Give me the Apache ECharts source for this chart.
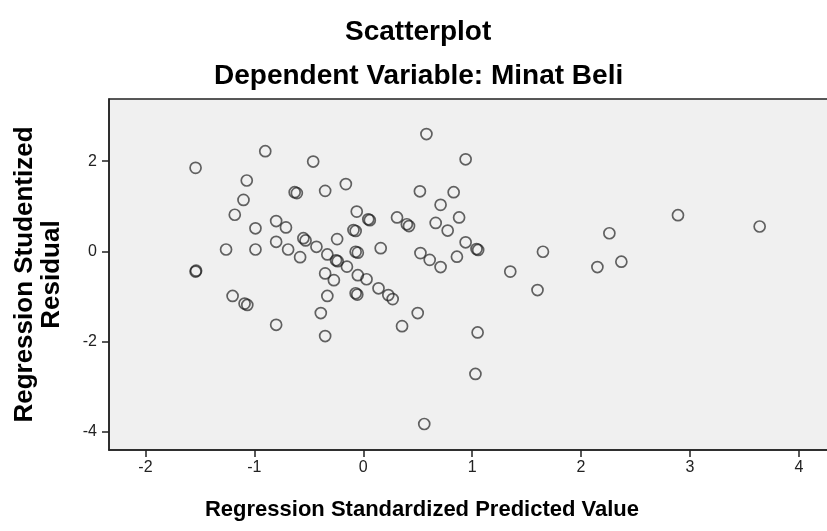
<!DOCTYPE html>
<html>
<head>
<meta charset="utf-8">
<script src="https://cdn.jsdelivr.net/npm/echarts@6/dist/echarts.min.js"></script>
<style>
html,body{margin:0;padding:0;background:#fff;}
#chart{width:827px;height:531px;}
</style>
</head>
<body>
<div id="chart"></div>
<script>
// Regression Standardized Predicted Value (x)
var predicted = [
  -1.54, -0.90, -0.46, -1.07, -1.10, -1.18, -0.63, -0.61, -0.35, -0.16,
  -0.99, -0.80, -0.71, -1.26, -0.99, -0.80, -0.69, -0.58, -0.55, -0.53,
  -0.43, -0.24, -0.33, -0.25, -0.235, -0.15, -0.09, -0.07, -0.06, -0.07,
  -0.05, -0.35, -1.54, -1.535, 0.58, 0.94, 0.52, 0.83, 0.71, 0.88,
  0.665, 0.775, 0.31, 0.40, 0.42, 0.046, 0.06, 0.16, 0.525, 0.61,
  0.71, 0.86, 0.94, 1.04, 1.055, 1.35, -0.05, 0.03, -1.20, -1.09,
  -1.065, -0.80, -0.27, -0.33, -0.39, -0.35, -0.07, -0.055, 0.14, 0.23,
  0.27, 0.50, 0.356, 1.05, 1.03, 0.56, 2.89, 3.64, 2.26, 1.65,
  2.15, 2.37, 1.60
];
// Regression Studentized Residual (y)
var residual = [
  1.85, 2.22, 1.99, 1.57, 1.14, 0.81, 1.31, 1.29, 1.34, 1.49,
  0.51, 0.67, 0.53, 0.04, 0.04, 0.21, 0.04, -0.13, 0.29, 0.24,
  0.10, 0.27, -0.07, -0.20, -0.22, -0.34, 0.47, 0.45, 0.88, -0.01,
  -0.03, -0.49, -0.45, -0.43, 2.60, 2.04, 1.33, 1.31, 1.03, 0.75,
  0.63, 0.46, 0.75, 0.60, 0.56, 0.71, 0.69, 0.07, -0.04, -0.19,
  -0.35, -0.12, 0.20, 0.05, 0.03, -0.45, -0.53, -0.62, -0.99, -1.16,
  -1.19, -1.63, -0.64, -0.99, -1.37, -1.88, -0.93, -0.96, -0.82, -0.97,
  -1.06, -1.37, -1.66, -1.80, -2.72, -3.83, 0.80, 0.55, 0.40, -0.01,
  -0.35, -0.23, -0.86
];
var xTicks = [-2, -1, 0, 1, 2, 3, 4];
var yTicks = [-4, -2, 0, 2];

var points = predicted.map(function (v, i) { return [v, residual[i]]; });

var font = '"Liberation Sans", Arial, sans-serif';
var chart = echarts.init(document.getElementById('chart'), null, {renderer: 'canvas'});
chart.setOption({
  animation: false,
  backgroundColor: '#ffffff',
  title: [
    {text: 'Scatterplot', left: 340, top: 13,
     textStyle: {fontFamily: font, fontSize: 28, fontWeight: 'bold', color: '#000'}},
    {text: 'Dependent Variable: Minat Beli', left: 209, top: 57,
     textStyle: {fontFamily: font, fontSize: 28, fontWeight: 'bold', color: '#000'}}
  ],
  graphic: [{
    type: 'text', x: 422, y: 510, silent: true,
    style: {text: 'Regression Standardized Predicted Value', fontFamily: font, fontSize: 22,
            fontWeight: 'bold', fill: '#000', align: 'center', verticalAlign: 'middle'}
  }],
  grid: {
    left: 109, top: 99, right: -3, bottom: 81,
    containLabel: false, outerBoundsMode: 'none',
    show: true, backgroundColor: '#f0f0f0',
    borderColor: '#222', borderWidth: 1.5
  },
  xAxis: {
    type: 'value',
    min: -2.335, max: 4.286,
    axisLine: {show: true, onZero: false, lineStyle: {color: '#222', width: 1.5}},
    axisTick: {show: true, length: 7, customValues: xTicks, lineStyle: {color: '#222', width: 1.5}},
    axisLabel: {customValues: xTicks, margin: 10, fontFamily: font, fontSize: 16, color: '#222'},
    splitLine: {show: false}
  },
  yAxis: {
    type: 'value',
    min: -4.406, max: 3.377,
    name: 'Regression Studentized\nResidual',
    nameLocation: 'middle', nameGap: 44, nameRotate: 90,
    nameTextStyle: {fontFamily: font, fontSize: 26, fontWeight: 'bold', color: '#000', lineHeight: 27, align: 'center'},
    axisLine: {show: true, onZero: false, lineStyle: {color: '#222', width: 1.5}},
    axisTick: {show: true, length: 7, customValues: yTicks, lineStyle: {color: '#222', width: 1.5}},
    axisLabel: {customValues: yTicks, margin: 12, fontFamily: font, fontSize: 16, color: '#222'},
    splitLine: {show: false}
  },
  series: [{
    type: 'scatter',
    data: points,
    symbol: 'circle',
    symbolSize: 11,
    itemStyle: {color: 'rgba(0,0,0,0)', borderColor: 'rgba(30,30,30,0.85)', borderWidth: 1.7},
    emphasis: {disabled: true}
  }]
});
</script>
</body>
</html>
